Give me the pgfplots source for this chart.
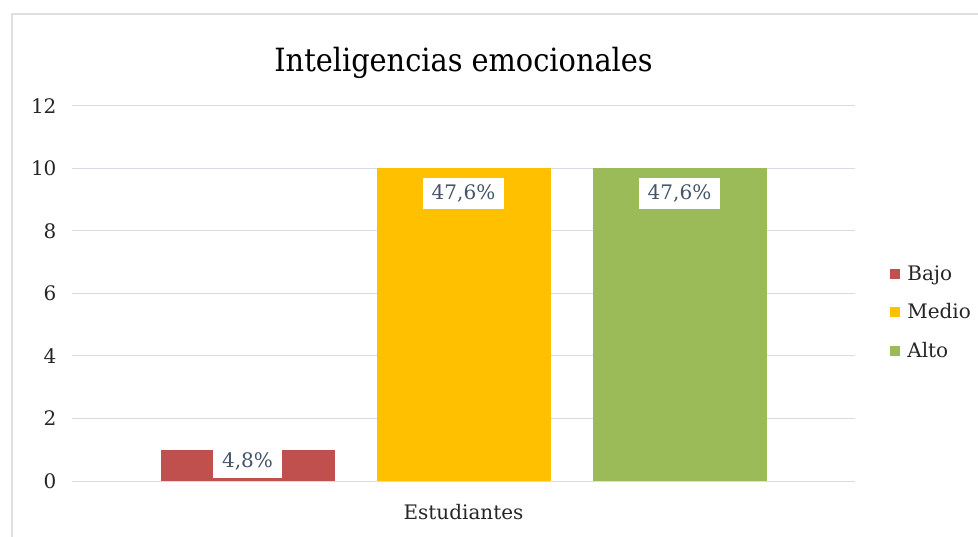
\documentclass[border=0pt]{standalone}
\usepackage{fontspec}
\setmainfont{DejaVu Serif}
\newfontfamily\titlefont{DejaVu Serif Condensed}
\usepackage{pgfplots}
\pgfplotsset{compat=1.18}
\definecolor{bajo}{HTML}{C0504D}
\definecolor{medio}{HTML}{FFC000}
\definecolor{alto}{HTML}{9BBB59}
\definecolor{gridc}{HTML}{D9DCE6}
\definecolor{lbl}{HTML}{44546A}
\begin{document}
\begin{tikzpicture}
  \path[use as bounding box] (0,0) rectangle (978pt,536pt);
  \draw[gray!25, line width=1.5pt] (12pt,-5pt) rectangle (990pt,522pt);
  \begin{axis}[
    at={(72pt,55pt)}, anchor=south west,
    scale only axis,
    width=783pt, height=375pt,
    ybar, bar width=174pt, bar shift=0pt,
    xmin=-1.8125, xmax=1.8125,
    ymin=0, ymax=12,
    ytick={0,2,...,12},
    xtick={0}, xticklabels={Estudiantes},
    axis line style={draw=none},
    tick style={draw=none},
    ymajorgrids, grid style={gridc, line width=1pt},
    yticklabel style={font=\fontsize{20}{23}\selectfont, text=black!85, xshift=-12pt},
    xticklabel style={font=\fontsize{20}{23}\selectfont, text=black!85, yshift=-16pt},
    /pgf/number format/assume math mode=true,
    title={\titlefont\fontsize{32}{36}\selectfont Inteligencias emocionales},
    title style={at={(0.5,1)}, anchor=south, yshift=18pt},
    legend style={draw=none, fill=none, at={(1.041,0.45)}, anchor=west,
      font=\fontsize{20}{23}\selectfont, text=black!85, row sep=18pt,
      /tikz/every even column/.append style={column sep=0pt}},
    legend cell align=left,
    legend image code/.code={\fill[#1] (0pt,-5pt) rectangle (10pt,5pt);},
    every node near coord/.append style={fill=white, text=lbl,
      font=\fontsize{20}{23}\selectfont, inner xsep=9pt, inner ysep=7pt},
  ]
    \addplot[fill=bajo, draw=none, nodes near coords={4,8\%},
      nodes near coords align={anchor=center}, every node near coord/.append style={yshift=-12pt}]
      coordinates {(-1,1)};
    \addlegendentry{\hspace{5pt}Bajo}
    \addplot[fill=medio, draw=none, nodes near coords={47,6\%},
      nodes near coords align={anchor=north}, every node near coord/.append style={yshift=-9pt}]
      coordinates {(0,10)};
    \addlegendentry{\hspace{5pt}Medio}
    \addplot[fill=alto, draw=none, nodes near coords={47,6\%},
      nodes near coords align={anchor=north}, every node near coord/.append style={yshift=-9pt}]
      coordinates {(1,10)};
    \addlegendentry{\hspace{5pt}Alto}
  \end{axis}
\end{tikzpicture}
\end{document}
